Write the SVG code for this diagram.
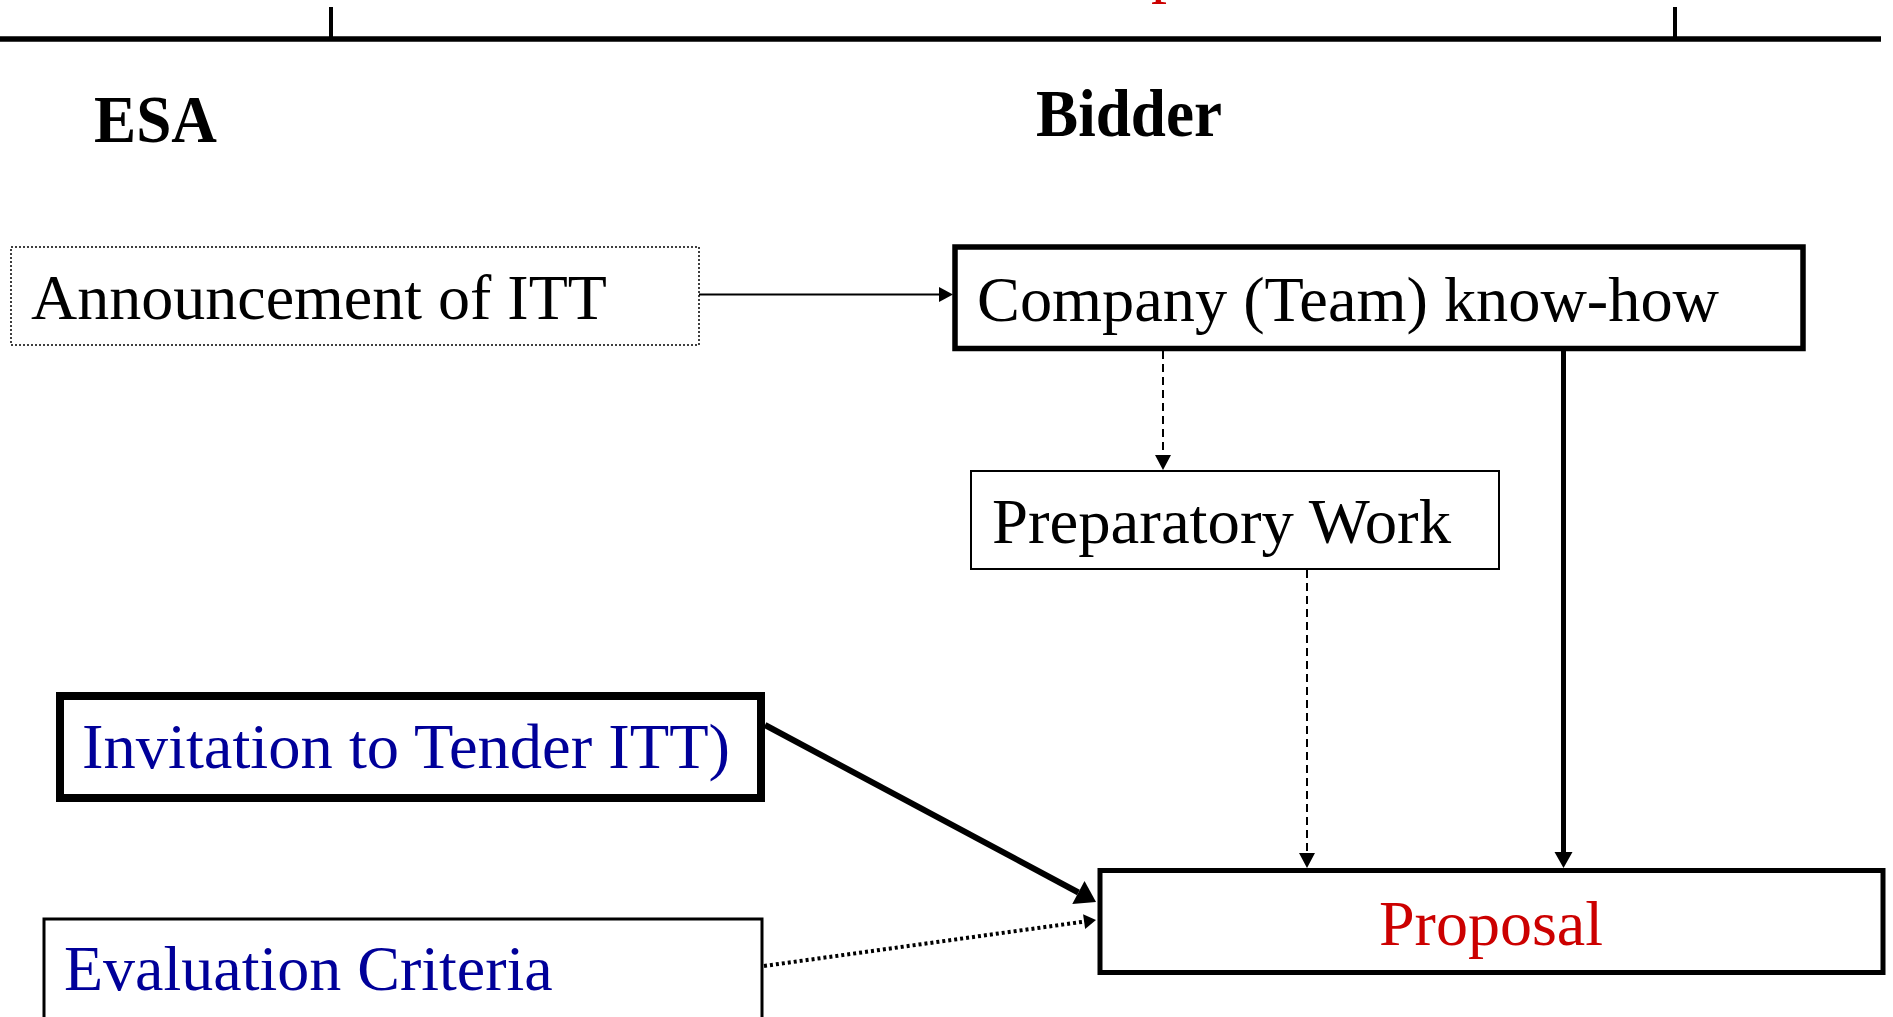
<svg xmlns="http://www.w3.org/2000/svg" width="1893" height="1017" viewBox="0 0 1893 1017">
<style>
.t{font-family:"Liberation Serif","Times New Roman",serif;font-size:64px;fill:#000}
.h{font-family:"Liberation Serif","Times New Roman",serif;font-size:67px;font-weight:bold;fill:#000}
.blue{fill:#000099}
.red{fill:#CC0000}
.box{fill:#fff;stroke:#000}
.ln{fill:none;stroke:#000}
</style>
<defs>
<marker id="aSmall" markerUnits="userSpaceOnUse" markerWidth="14" markerHeight="15" refX="0" refY="7.5" orient="auto" overflow="visible"><path d="M0,0 L14,7.5 L0,15 Z" fill="#000"/></marker>
<marker id="aDash" markerUnits="userSpaceOnUse" markerWidth="15" markerHeight="16" refX="0" refY="8" orient="auto" overflow="visible"><path d="M0,0 L15,8 L0,16 Z" fill="#000"/></marker>
<marker id="aSolid" markerUnits="userSpaceOnUse" markerWidth="16" markerHeight="18" refX="0" refY="9" orient="auto" overflow="visible"><path d="M0,0 L16,9 L0,18 Z" fill="#000"/></marker>
<marker id="aThick" markerUnits="userSpaceOnUse" markerWidth="20" markerHeight="26" refX="0" refY="13" orient="auto" overflow="visible"><path d="M0,0 L20,13 L0,26 Z" fill="#000"/></marker>
<marker id="aDot" markerUnits="userSpaceOnUse" markerWidth="12" markerHeight="15" refX="0" refY="7.5" orient="auto" overflow="visible"><path d="M0,0 L12,7.5 L0,15 Z" fill="#000"/></marker>
</defs>
<rect width="1893" height="1017" fill="#fff"/>
<g id="header">
<text class="t red" x="1151" y="-10">p</text>
<line class="ln" x1="0" y1="39" x2="1881" y2="39" stroke-width="5.5"/>
<line class="ln" x1="331" y1="7" x2="331" y2="37" stroke-width="4"/>
<line class="ln" x1="1675" y1="7" x2="1675" y2="37" stroke-width="4"/>
<text class="h" x="94" y="142" textLength="123" lengthAdjust="spacingAndGlyphs">ESA</text>
<text class="h" x="1036" y="136" textLength="186" lengthAdjust="spacingAndGlyphs">Bidder</text>
</g>
<g id="connectors">
<line class="ln" x1="699" y1="294.5" x2="939" y2="294.5" stroke-width="2" marker-end="url(#aSmall)"/>
<line class="ln" x1="1163" y1="351" x2="1163" y2="455" stroke-width="2" stroke-dasharray="8 5" marker-end="url(#aDash)"/>
<line class="ln" x1="1307" y1="570" x2="1307" y2="853" stroke-width="2" stroke-dasharray="8 5" marker-end="url(#aDash)"/>
<line class="ln" x1="1563.5" y1="346" x2="1563.5" y2="852" stroke-width="5" marker-end="url(#aSolid)"/>
<line class="ln" x1="765" y1="725" x2="1078.4" y2="892.5" stroke-width="6" marker-end="url(#aThick)"/>
<line class="ln" x1="764" y1="966" x2="1084.1" y2="921.6" stroke-width="4" stroke-dasharray="3 3" marker-end="url(#aDot)"/>
</g>
<g id="announcement">
<rect class="box" x="11" y="247" width="688" height="98" stroke-width="1.5" stroke-dasharray="2 2"/>
<text class="t" x="31" y="319">Announcement of ITT</text>
</g>
<g id="company">
<rect class="box" x="955" y="247" width="848" height="101.5" stroke-width="5.5"/>
<text class="t" x="977" y="321" textLength="742" lengthAdjust="spacingAndGlyphs">Company (Team) know-how</text>
</g>
<g id="preparatory">
<rect class="box" x="971" y="471" width="528" height="98" stroke-width="2"/>
<text class="t" x="992" y="543" textLength="459" lengthAdjust="spacingAndGlyphs">Preparatory Work</text>
</g>
<g id="invitation">
<rect class="box" x="60" y="696" width="701" height="102" stroke-width="8"/>
<text class="t blue" x="82" y="768" textLength="648" lengthAdjust="spacingAndGlyphs">Invitation to Tender ITT)</text>
</g>
<g id="evaluation">
<rect class="box" x="44" y="919" width="718" height="140" stroke-width="3"/>
<text class="t blue" x="64" y="990">Evaluation Criteria</text>
</g>
<g id="proposal">
<rect class="box" x="1100" y="870.5" width="783" height="102" stroke-width="5"/>
<text class="t red" x="1491" y="945" text-anchor="middle">Proposal</text>
</g>
</svg>
